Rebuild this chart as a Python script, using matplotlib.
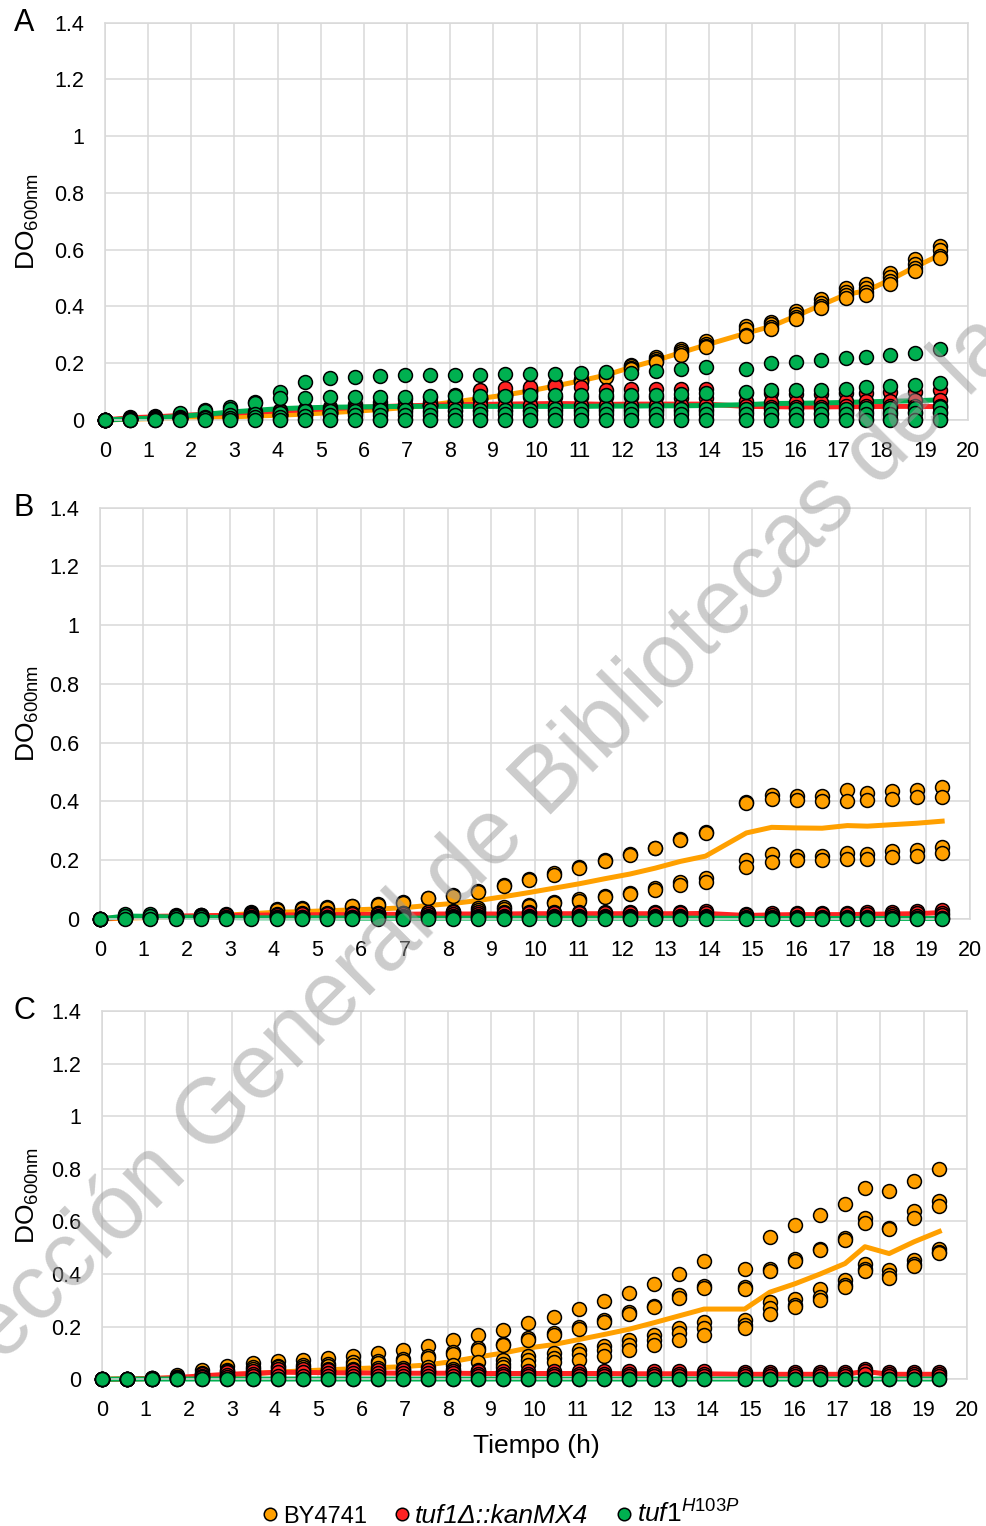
import matplotlib.pyplot as plt
from matplotlib.lines import Line2D

plt.rcParams['font.family'] = ['Liberation Sans', 'DejaVu Sans']
plt.rcParams['mathtext.fontset'] = 'custom'
plt.rcParams['mathtext.rm'] = 'Liberation Sans'
plt.rcParams['mathtext.it'] = 'Liberation Sans:italic'

# tiempo de cada lectura (h)
T = [0, 0.58, 1.16, 1.74, 2.32, 2.90, 3.48, 4.06, 4.64, 5.22,
     5.80, 6.38, 6.96, 7.54, 8.12, 8.70, 9.28, 9.86, 10.44, 11.02,
     11.60, 12.18, 12.76, 13.34, 13.92, 14.86, 15.44, 16.02, 16.60, 17.18,
     17.64, 18.20, 18.78, 19.36]

ZERO = [0, 0, 0, 0, 0, 0, 0, 0, 0, 0,
        0, 0, 0, 0, 0, 0, 0, 0, 0, 0,
        0, 0, 0, 0, 0, 0, 0, 0, 0, 0,
        0, 0, 0, 0]

# ---------- A ----------
A_BY = [
    [0, .004, .006, .008, .010, .012, .015, .018, .022, .027,
     .033, .039, .046, .056, .067, .080, .093, .108, .126, .145,
     .166, .194, .221, .249, .277, .330, .347, .385, .425, .465,
     .478, .518, .567, .612],
    [0, .003, .005, .007, .009, .011, .014, .017, .021, .026,
     .032, .038, .045, .054, .065, .078, .090, .105, .122, .141,
     .161, .189, .214, .242, .269, .320, .337, .374, .413, .452,
     .466, .504, .551, .598],
    [0, .002, .004, .006, .008, .010, .013, .016, .020, .025,
     .030, .036, .043, .052, .063, .075, .087, .102, .119, .137,
     .156, .183, .208, .235, .261, .300, .327, .363, .401, .439,
     .450, .489, .535, .578],
    [0, .002, .004, .006, .008, .010, .013, .016, .020, .025,
     .030, .036, .042, .051, .062, .073, .085, .100, .116, .134,
     .153, .180, .204, .230, .256, .296, .320, .356, .393, .430,
     .441, .479, .524, .570],
]
A_BY_MEAN = [0, .003, .005, .007, .009, .011, .014, .017, .021, .026,
             .031, .037, .044, .053, .064, .076, .088, .103, .120, .138,
             .158, .185, .210, .237, .264, .306, .330, .367, .405, .443,
             .455, .494, .540, .582]
A_DEL = [
    [0, .012, .014, .018, .022, .026, .030, .035, .040, .045,
     .055, .065, .075, .082, .088, .104, .112, .117, .120, .117,
     .106, .110, .110, .110, .110, .096, .094, .092, .092, .095,
     .096, .098, .100, .106],
    [0, .008, .010, .014, .018, .022, .026, .030, .035, .040,
     .046, .052, .058, .064, .070, .075, .078, .080, .081, .081,
     .080, .080, .080, .079, .079, .066, .064, .064, .064, .066,
     .066, .068, .070, .072],
    [0, .005, .008, .012, .015, .018, .021, .025, .029, .033,
     .038, .042, .046, .049, .051, .052, .053, .054, .054, .054,
     .054, .054, .054, .054, .054, .048, .047, .047, .047, .048,
     .048, .049, .050, .050],
    [0, .003, .005, .008, .010, .013, .016, .019, .021, .023,
     .025, .027, .028, .029, .030, .030, .031, .031, .031, .031,
     .031, .031, .031, .031, .031, .027, .026, .026, .026, .027,
     .027, .027, .028, .028],
    [0, .001, .001, .002, .002, .002, .003, .003, .003, .003,
     .003, .003, .003, .003, .003, .003, .003, .003, .003, .003,
     .003, .003, .003, .003, .003, .003, .003, .003, .003, .003,
     .003, .003, .003, .003],
]
A_DEL_MEAN = [0, .008, .011, .016, .020, .024, .028, .032, .036, .040,
              .044, .047, .050, .052, .054, .055, .056, .057, .058, .057,
              .055, .056, .056, .056, .056, .048, .047, .046, .046, .047,
              .047, .048, .048, .047]
A_H103P = [
    [0, .006, .010, .026, .035, .047, .065, .100, .135, .147,
     .150, .155, .158, .158, .160, .160, .161, .161, .162, .164,
     .168, .166, .172, .180, .188, .178, .200, .205, .211, .217,
     .221, .229, .237, .249],
    [0, .004, .006, .012, .030, .040, .060, .076, .076, .080,
     .082, .082, .082, .084, .085, .086, .086, .087, .087, .087,
     .088, .088, .089, .090, .094, .100, .106, .106, .106, .110,
     .115, .120, .123, .131],
    [0, .002, .004, .008, .012, .016, .020, .026, .030, .032,
     .033, .034, .035, .035, .036, .036, .036, .036, .037, .037,
     .037, .037, .038, .038, .038, .038, .039, .039, .040, .040,
     .041, .042, .043, .045],
    [0, .001, .002, .004, .006, .008, .010, .012, .014, .016,
     .017, .018, .018, .019, .019, .020, .020, .020, .020, .020,
     .021, .021, .021, .021, .021, .021, .022, .022, .022, .022,
     .022, .022, .023, .023],
    ZERO,
]
A_H103P_MEAN = [0, .004, .007, .013, .020, .028, .034, .040, .043, .045,
                .046, .047, .048, .048, .048, .048, .048, .048, .048, .048,
                .049, .049, .050, .050, .051, .054, .058, .059, .060, .062,
                .064, .066, .068, .071]

# ---------- B ----------
B_BY = [
    [0, .004, .006, .008, .012, .016, .025, .033, .036, .042,
     .045, .050, .059, .073, .081, .095, .116, .135, .155, .176,
     .200, .221, .243, .272, .297, .399, .422, .420, .420, .440,
     .430, .435, .440, .450],
    [0, .003, .005, .007, .010, .014, .022, .030, .034, .039,
     .043, .048, .056, .070, .078, .092, .112, .132, .150, .172,
     .196, .217, .240, .268, .293, .395, .410, .405, .400, .400,
     .405, .410, .415, .415],
    [0, .003, .005, .007, .009, .011, .013, .015, .016, .017,
     .018, .019, .020, .022, .028, .036, .040, .048, .059, .068,
     .078, .090, .107, .126, .140, .200, .220, .215, .215, .225,
     .222, .230, .235, .245],
    [0, .002, .004, .006, .008, .010, .012, .013, .014, .015,
     .016, .017, .018, .020, .024, .030, .035, .045, .055, .062,
     .074, .085, .100, .117, .126, .178, .195, .200, .200, .205,
     .205, .210, .215, .223],
]
B_BY_MEAN = [0, .003, .005, .007, .010, .013, .018, .023, .025, .028,
             .031, .034, .038, .046, .053, .063, .076, .090, .105, .120,
             .137, .153, .173, .196, .214, .293, .312, .310, .309, .318,
             .316, .321, .326, .333]
B_DEL = [
    [0, .010, .012, .013, .014, .015, .017, .018, .019, .020,
     .021, .022, .022, .023, .023, .024, .024, .025, .025, .025,
     .025, .025, .025, .025, .026, .018, .020, .022, .022, .022,
     .023, .024, .026, .032],
    [0, .008, .010, .011, .012, .013, .014, .015, .016, .016,
     .017, .017, .018, .018, .018, .018, .019, .019, .019, .019,
     .019, .019, .019, .019, .020, .012, .014, .016, .016, .016,
     .017, .018, .019, .022],
    [0, .004, .005, .006, .006, .007, .007, .008, .008, .008,
     .008, .009, .009, .009, .009, .009, .009, .009, .009, .010,
     .010, .010, .010, .010, .010, .006, .007, .008, .008, .008,
     .008, .009, .010, .012],
]
B_DEL_MEAN = [0, .007, .009, .010, .011, .012, .013, .014, .014, .015,
              .015, .016, .016, .017, .017, .017, .017, .018, .018, .018,
              .018, .018, .018, .018, .019, .012, .014, .015, .015, .015,
              .016, .017, .018, .022]
B_H103P = [
    [0, .018, .016, .010, .010, .008, .008, .008, .008, .007,
     .007, .007, .007, .006, .006, .006, .006, .006, .006, .006,
     .006, .006, .006, .006, .006, .004, .004, .004, .004, .004,
     .004, .004, .004, .005],
    [0, .010, .010, .007, .006, .005, .004, .004, .004, .004,
     .003, .003, .003, .003, .003, .003, .003, .003, .003, .003,
     .003, .003, .003, .003, .003, .002, .002, .002, .002, .002,
     .002, .002, .002, .002],
    ZERO,
]
B_H103P_MEAN = [0, .010, .009, .006, .006, .005, .004, .004, .004, .004,
                .003, .003, .003, .003, .003, .003, .003, .003, .003, .003,
                .003, .003, .003, .003, .003, .002, .002, .002, .002, .002,
                .002, .002, .002, .002]

# ---------- C ----------
C_BY = [
    [0, .003, .006, .015, .036, .049, .062, .070, .074, .081,
     .090, .100, .113, .128, .149, .167, .187, .213, .238, .267,
     .299, .328, .363, .401, .450, .420, .542, .585, .626, .667,
     .726, .715, .754, .799],
    [0, .002, .004, .010, .025, .035, .045, .050, .055, .060,
     .064, .070, .077, .087, .103, .119, .136, .158, .177, .200,
     .224, .254, .280, .320, .356, .350, .420, .456, .497, .536,
     .613, .577, .638, .677],
    [0, .002, .004, .008, .020, .030, .040, .045, .048, .052,
     .055, .062, .070, .080, .096, .112, .130, .151, .170, .192,
     .218, .248, .275, .310, .346, .344, .410, .449, .490, .530,
     .594, .570, .615, .658],
    [0, .001, .003, .006, .012, .018, .025, .030, .036, .040,
     .040, .042, .042, .045, .055, .064, .072, .087, .100, .113,
     .128, .149, .170, .196, .219, .224, .292, .305, .344, .376,
     .440, .414, .453, .497],
    [0, .001, .002, .004, .008, .012, .015, .020, .025, .030,
     .029, .030, .036, .036, .040, .036, .060, .074, .081, .097,
     .113, .132, .151, .177, .196, .205, .270, .282, .312, .360,
     .420, .395, .440, .485],
    [0, .001, .002, .003, .005, .008, .010, .012, .015, .018,
     .020, .022, .024, .026, .030, .033, .045, .055, .065, .075,
     .090, .110, .130, .150, .170, .195, .247, .275, .300, .350,
     .410, .385, .430, .480],
]
C_BY_MEAN = [0, .002, .003, .005, .010, .016, .022, .027, .032, .036,
             .040, .044, .048, .055, .068, .085, .100, .119, .132, .151,
             .170, .190, .215, .241, .267, .267, .331, .363, .400, .440,
             .504, .478, .523, .562]
C_DEL = [
    [0, .002, .004, .010, .020, .028, .033, .040, .038, .036,
     .035, .035, .034, .034, .033, .033, .032, .032, .031, .031,
     .031, .030, .030, .030, .030, .026, .026, .026, .026, .027,
     .038, .027, .026, .026],
    [0, .001, .003, .006, .012, .018, .022, .027, .026, .025,
     .024, .024, .023, .023, .023, .022, .022, .022, .022, .022,
     .022, .021, .021, .021, .021, .019, .019, .019, .019, .019,
     .030, .019, .019, .019],
    [0, .001, .002, .004, .008, .010, .012, .014, .014, .014,
     .013, .013, .013, .013, .013, .013, .013, .013, .013, .013,
     .013, .013, .013, .013, .013, .012, .012, .012, .012, .012,
     .022, .012, .012, .012],
]
C_DEL_MEAN = [0, .001, .003, .007, .013, .019, .022, .027, .026, .025,
              .024, .024, .023, .023, .023, .022, .022, .022, .022, .022,
              .022, .021, .021, .021, .021, .019, .019, .019, .019, .019,
              .030, .019, .019, .019]
C_H103P = [
    [0, .002, .002, .002, .002, .002, .002, .002, .002, .002,
     .002, .002, .002, .002, .002, .002, .002, .002, .002, .002,
     .002, .002, .002, .002, .002, .002, .002, .002, .002, .002,
     .002, .002, .002, .002],
    ZERO,
]
C_H103P_MEAN = [0, .001, .001, .001, .001, .001, .001, .001, .001, .001,
                .001, .001, .001, .001, .001, .001, .001, .001, .001, .001,
                .001, .001, .001, .001, .001, .001, .001, .001, .001, .001,
                .001, .001, .001, .001]

ORANGE = '#FFA000'
RED = '#FF2222'
GREEN = '#00B050'

fig = plt.figure(figsize=(9.87, 15.26), dpi=100)

def px(x, y):
    return x / 987, 1 - y / 1526

panels = [
    ('A', [105, 22.7, 968, 420], A_BY, A_BY_MEAN, A_DEL, A_DEL_MEAN, A_H103P, A_H103P_MEAN),
    ('B', [100, 507.7, 970, 919], B_BY, B_BY_MEAN, B_DEL, B_DEL_MEAN, B_H103P, B_H103P_MEAN),
    ('C', [102, 1011, 967, 1379.3], C_BY, C_BY_MEAN, C_DEL, C_DEL_MEAN, C_H103P, C_H103P_MEAN),
]

for letter, box, by, by_m, dl, dl_m, hp, hp_m in panels:
    x0, y0, x1, y1 = box
    ax = fig.add_axes([x0 / 987, 1 - y1 / 1526, (x1 - x0) / 987, (y1 - y0) / 1526])
    ax.set_xlim(0, 20)
    ax.set_ylim(0, 1.4)
    ax.set_xticks(range(0, 21))
    ax.set_yticks([0, 0.2, 0.4, 0.6, 0.8, 1, 1.2, 1.4])
    ax.set_yticklabels(['0', '0.2', '0.4', '0.6', '0.8', '1', '1.2', '1.4'])
    ax.grid(True, color='#D9D9D9', lw=1.1)
    ax.set_axisbelow(True)
    for s in ax.spines.values():
        s.set_color('#D9D9D9')
        s.set_linewidth(1.1)
    ax.tick_params(axis='x', length=0, pad=15, labelsize=15.5)
    ax.tick_params(axis='y', length=0, pad=15, labelsize=15.5)

    ax.plot(T, by_m, color=ORANGE, lw=3.6, zorder=2, clip_on=False)
    ax.plot(T, dl_m, color=RED, lw=3.6, zorder=2, clip_on=False)
    ax.plot(T, hp_m, color=GREEN, lw=3.6, zorder=2, clip_on=False)
    for reps, c in [(by, ORANGE), (dl, RED), (hp, GREEN)]:
        for r in reps:
            ax.scatter(T, r, s=100, color=c, edgecolors='black', linewidths=1.1,
                       zorder=3, clip_on=False)

    fig.text(*px(24, y0), letter, fontsize=22, ha='center', va='center')
    fig.text(*px(28, (y0 + y1) / 2), r'DO$_{\mathregular{600nm}}$', fontsize=19,
             rotation=90, ha='center', va='center')

fig.text(*px(536, 1446), 'Tiempo (h)', fontsize=19, ha='center', va='center')

handles = [Line2D([], [], ls='', marker='o', ms=9, mfc=c, mec='black', mew=1.1)
           for c in (ORANGE, RED, GREEN)]
leg = fig.legend(handles, ['BY4741', 'tuf1Δ::kanMX4', r'$\mathit{tuf1}^{\mathit{H103P}}$'],
                 loc='center', bbox_to_anchor=px(501, 1514), ncol=3, frameon=False,
                 fontsize=17, handlelength=0.6, handletextpad=0.25, columnspacing=1.2)
leg.get_texts()[1].set_style('italic')
leg.get_texts()[1].set_fontsize(19)
leg.get_texts()[2].set_fontsize(19)

# marca de agua
fig.text(*px(556, 776), 'Dirección General de Bibliotecas de la UNAM', fontsize=66,
         rotation=45, rotation_mode='anchor', ha='center', va='center',
         color='#999999', alpha=0.5, zorder=10)

fig.savefig('out.png', dpi=100)
